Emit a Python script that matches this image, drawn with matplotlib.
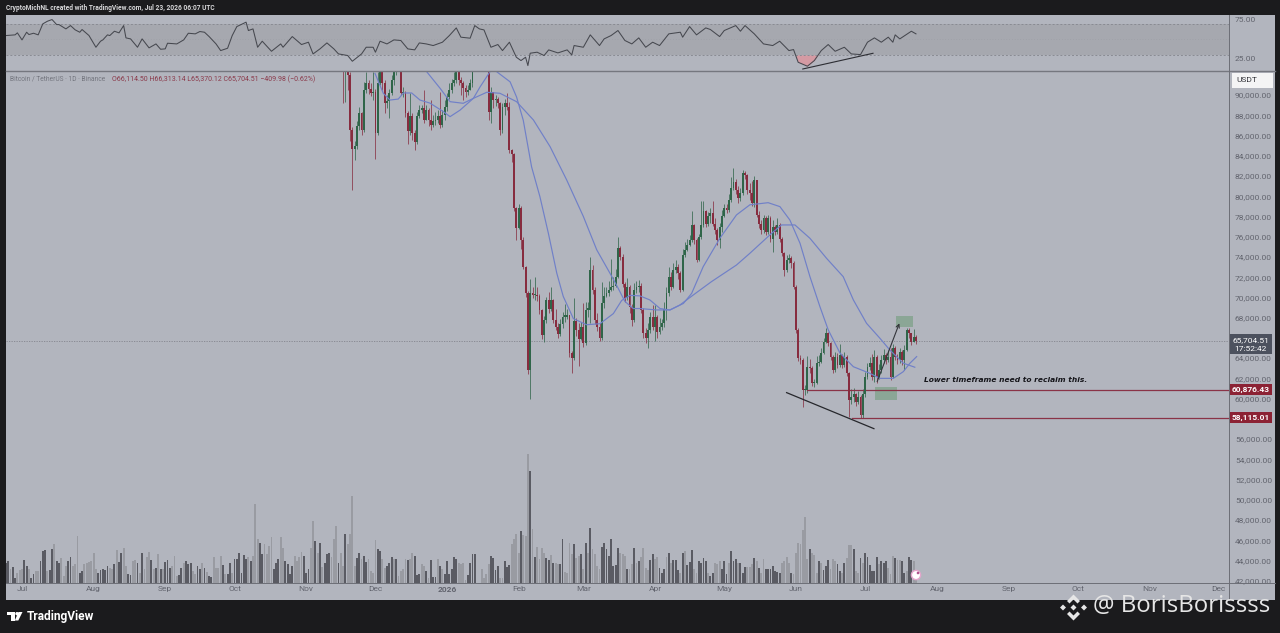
import matplotlib
matplotlib.use("Agg")
import matplotlib.pyplot as plt
from matplotlib.patches import Rectangle, Polygon, Circle
import numpy as np
import pandas as pd

# ---------- data (prices in thousands of USDT) ----------
close_k = [93,93.5,92,86.5,84.7,85,86.9,88.2,86.5,90.5,
91.2,90.6,90.2,90.3,86.2,91.2,93,91.2,89.2,89.4,
90.2,91.5,92.8,93.2,93.5,90.2,90.2,88.2,86.4,87.9,
86.2,85.4,87.9,88.5,88.7,87.5,88.5,87.5,87,87.4,
87.5,87.9,87,88,88.85,89.8,90.5,91.15,91.5,93,
91.5,91.15,90.7,90.3,90.5,91.15,93,94.5,95,95.5,
96,96.5,95.5,88.3,90.3,89.5,89.6,89.2,86.5,88.85,
89.2,88.8,84.6,84.2,78.8,76.9,78.8,75.7,73,70.4,
62.8,70.4,70.2,70.2,70.1,68.75,66.3,67.8,69.7,68.9,
69.7,67.8,67.1,66.4,67.4,68.1,68.1,68.3,64.5,64,
67.7,66.8,65.9,67.1,65.5,68.8,68.8,72.7,70.7,67.8,
67.1,65.95,69.4,70.1,70.4,70.7,71.05,71.1,72.05,74.85,
74,71.3,69.9,71,69.1,67.8,70.7,71,71.1,
68.8,66.45,65.95,66.8,68.1,67.1,68.1,66.6,67.1,67.45,
68.9,70.4,72.05,71.05,72.7,73.05,72.4,70.75,74.2,74.7,
75.2,75.7,77.15,75.7,73.7,76,77.15,78.5,77.3,78,
78.3,77.3,76.65,75.7,77,78,78.8,78.6,79.6,80.8,
81.4,80.6,79.8,80.3,82.25,82.1,80.6,80.3,79.3,81.6,
78.15,77.3,76.65,77.8,76.5,77.8,75.8,77,76.5,77.15,
75.8,74.35,72.7,73.7,73.9,73.4,71.05,66.8,64,63.8,
60.85,60.85,63.15,63,61.5,61.5,63.5,63.65,64.5,65.6,
66.45,65.45,64.15,62.8,64.15,63.3,64.3,63.3,64.15,62.5,
59.85,60.2,60.5,59.7,60.2,58.4,60.5,62.15,63.15,63.5,
62.15,64.15,62.15,62.8,63.8,64.3,63.8,64.15,62.15,65,
64.15,63.8,64.65,63.8,64.8,66.8,66.45,65.6,66.11,65.70]
high_k = [96,96,94,92.3,86.8,85.5,87.4,88.8,88.3,91.3,
92.3,91.5,91.2,92.3,90.6,92.3,94,93.5,91.5,90,
90.6,92,94,94.5,94.5,93.8,90.8,90.4,88.4,90.2,
88.2,86.5,88.3,89,89,90.5,89,88.7,89.5,88,
88.3,88.5,90.3,88.5,89.5,90.2,91.2,91.6,92.3,94.5,
93.5,91.8,91.4,91,91,91.6,94.5,95.5,96,96.5,
97,97.5,97,95,90.8,90.3,90,89.8,89.3,89.2,
89.6,90.2,89.3,84.7,84.3,78.9,79.2,79,76,73.1,
70.6,71.8,71,72.05,71,70.3,68.9,68.2,70,70.5,
71,69.8,68.9,67.5,67.9,68.6,69.3,68.9,68,64.7,
69.9,68,67.5,67.6,69.4,69.5,69.5,74,73.2,71,
68.5,67.5,71.5,71,71,71.6,73.8,72,72.8,76,
75.1,74.3,71.5,71.9,71.2,69.3,71.4,71.6,71.7,
71.4,69,67,67.5,68.6,69.2,69.2,68.3,68,67.9,
69.5,71,73,72.5,73.4,73.7,73.3,72.6,74.8,75.5,
75.8,76.2,78.5,77.3,75.9,76.3,79.5,79.5,78.6,78.4,
78.8,79.5,77.8,76.9,77.4,78.6,79.2,79.2,80.2,81.9,
82.75,81.7,81,80.8,82.6,82.5,82.2,81.3,81.5,82,
81,78.5,77.6,78.1,78,78.1,78,77.6,77.2,77.8,
77.4,76,74.5,74.2,74.3,74.1,73.6,71.2,67,64.3,
64,61.3,64.2,63.9,63.2,61.9,64.2,64.3,65,66,
67,66.6,65.6,64.3,64.6,64.5,65.4,64.4,64.6,64.3,
62.6,60.9,61,60.6,60.8,60.4,60.9,62.6,63.5,64.1,
64.4,64.8,64.3,63.4,64.3,64.9,64.5,64.8,65,65.4,
65.2,64.4,65,64.8,65.3,67,67,66.5,66.9,66.31]
low_k = [89.2,89.3,90.5,85.5,80.6,83.6,84.7,86.5,86,86.3,
90.2,90.1,89.9,89.5,83.7,86,91,90.5,88.2,88.7,
87.7,90,91,92,92.5,90,89.8,87.8,85.2,86,
85.6,84.6,85.2,87.7,88.2,87.2,87.5,86.9,86.5,86.8,
87,87.2,86.7,86.8,87.5,88.4,89.6,90.2,90.9,91.2,
91,90,89.5,89.8,90,90.5,90.8,92.5,94,94.5,
95,95.5,95,87.5,87.2,88.7,88.9,88.7,86,86.2,
88,88.5,84.3,83.4,78.5,75.7,76.8,74.8,72.8,70,
62.4,60,69.9,69.7,69.6,68.4,65.9,65.6,67.5,68.5,
68.7,67.5,66.8,66,66.2,67,67.6,67.9,64.1,62.5,
63.8,66.2,63.2,65.8,65.1,65.3,68.1,67.5,70.3,67.4,
66.7,65.7,65.8,69,70,70.1,70.6,70.7,71,71.9,
73.7,71,69.5,69.7,68.5,67.2,67.6,70.4,70.5,
68.5,66,65.5,65,66.5,66.8,65.7,66,66.4,66.8,
67.1,67.8,70.1,70.7,70.9,72.4,71.8,70.5,70.6,74,
74.6,75.1,75.5,75.3,73.5,73.6,75.8,77,77,77.1,
77.4,77.1,76.3,75.2,74.9,76.5,77.9,78.3,78.4,79.4,
80.6,80.2,79.3,79.5,80.1,81.7,80.2,79.6,79,78.9,
77.9,76.9,76.3,76.4,76.2,76.3,75.5,74.5,76.2,76.3,
75.5,74.1,72.1,72.5,73.4,72.9,70.8,66.5,63.7,63.4,
59.2,60.4,60.6,62.5,61.2,61.1,61.4,63.2,63.5,64.4,
65.5,65.2,63.8,62.5,62.6,63,63.1,63,63.1,62.2,
58.2,59.5,59.7,59.3,59.5,58.1,58.1,60.2,61.9,62.8,
61.8,61.6,61.5,61.9,62.5,63.5,63.4,63.6,61.8,62,
63.8,63.4,63.5,63.3,62.8,64.7,66,65.3,65.6,65.37]
first_open_k = 94.0

# signed volume: positive = up day (light), negative = down day (dark); unit is arbitrary
volume_first = [-60,-65,40,-48,-15,30,38,42,-68,-50,40,-15,-25,35,35,-65,-95,-98,35,-38,
-102,115,-65,-60,75,20,50,-65,-78,50,55,140,-28,-35,55,60,62,65,90,40,
-30,-38,-40,-38,-50,45,40,-55,98,-62,-88,105,50,-25,-22,65,68,-60,30,-88,
42,78,92,-68,42,-45,85,-40,40,-62,-68,-45,50,80,20,-22,-45,60,-65,-55,
-58,35,25,-50,-42,60,-45,32,-20,-18,78,45,45,80,-52,25,-25,-58,30,-72,
-72,-88,-30,-82,-70,78,-65,80,235,130,-118,-85,115,85,110,138,-42,-58,-72,138,
105,-65,-55,-25,-50,80,65,78,92,-80,-30,-42,105,185,-125,90,-118,48,-58,-85,
-88,78,130,170,-58,90,50,-145,115,145,260,50,-75,-90,70,-80,-62,70,35,30,
128,-100,-95,72,45,-50,-58,-78,72,-72,20,35,40,70,-68,72,90,-80,-22,-25,
55,50,-35,15,-68,-18,-18,72,-50,42,-25,-65,-25,-40,-78,-70,60,55,60,8,
-22,-60,-85,-85]
volume_last = [42,15,25,55,-80,-75,-38,-50,15,15,-65,-48,-52,115,130,145,90,-155,142,140,
385,-335,162,-78,108,70,105,90,-75,-68,82,-60,60,55,-55,-130,32,30,120,85,
-115,75,80,-85,40,-118,90,-165,100,85,50,40,-108,-120,-100,-80,-132,-50,-52,-105,
90,85,80,-40,40,55,-105,60,-65,78,105,45,38,-68,-85,70,78,-45,-30,-42,
78,-88,60,-68,-68,-38,30,-90,95,-52,-62,-98,40,28,-65,-60,-75,-65,30,-20,
-30,60,55,65,-40,-65,-25,60,-95,-65,-70,60,-60,-28,-48,48,48,55,-75,65,
-45,30,72,-42,-42,-42,-50,-35,-32,-30,60,65,78,60,-30,25,90,120,115,158,
198,70,-100,90,82,30,-65,60,-38,-50,-68,40,72,65,-55,-35,30,-58,75,112,
112,-100,35,30,-75,60,-90,-78,-52,-35,-35,-78,55,-65,-60,-65,45,25,80,-75,
68,68,-65,-30,35,-78,-68,65,12]

# RSI readings: days after 2025-07-01 and value
rsi_days = [-7,-3,-2,0,2,3,5,7,9,11,13,15,16,19,21,23,25,26,29,32,34,35,37,38,40,42,44,45,47,50,
52,55,58,60,62,63,67,70,72,75,77,79,81,84,86,89,91,93,97,98,100,102,104,108,112,113,117,121,124,126,
129,132,135,137,141,143,147,149,152,153,155,158,161,164,167,170,172,175,178,182,185,188,190,194,196,198,200,203,206,208,
211,214,216,218,219,220,223,226,228,232,236,238,239,243,246,250,252,255,258,261,264,267,270,273,276,280,285,286,289,292,
296,298,302,304,309,311,313,317,321,325,328,332,334,336,340,343,346,349,352,356,359,363,366,369,372,375,377,378,380,385,387]
rsi_vals = [54.9,55.8,58.4,49.3,59.2,56.2,57.9,55.8,70,73.4,75.6,69.1,69.1,63.5,67.8,62.3,59.2,62.7,54.9,39.8,47.6,49.3,55.8,54.9,60.5,58.4,67.8,51.9,50.6,39.8,
50.6,39,44.1,37.2,37.7,45,44.1,49.3,57.9,57.1,60.1,59.2,53.6,44.1,35.5,38.5,54.9,66.5,72.2,61.4,63.5,39.8,47.6,34.6,44.1,39.8,53.6,43.3,46.3,31.2,
37.7,45.4,37.7,31.2,29.1,21.7,31.2,39.8,39.8,33.4,47.6,44.1,49.3,48.5,37.7,36.4,45.4,44.1,42,46.3,54.9,64.8,52.8,51.5,67.8,63.5,62.2,39.8,43.3,35.5,
46.3,26.9,22.6,26.9,16.1,32.1,33.4,29.1,36.4,32.5,36.4,29.9,42,39.8,55.8,42,50.6,54.9,61.4,48.5,44.1,51.9,39.8,46.3,42,57.1,59.2,52.8,66.5,55.8,
64.8,62.7,53.6,61.4,67.8,60.5,67.8,57.1,44.1,42,47.6,35.5,36.8,20.4,15.3,22.6,35.5,43.3,34.6,39.8,31.2,30.3,46.3,51.9,46.3,52.8,46.3,55.8,50.6,60.5,57.1]

# moving averages: days after 2025-07-01 and price in thousands
ma_fast_days = [152.8,156.4,159.3,162.9,165.1,168.7,172.3,176.6,182.4,185.3,189.6,195.4,198.3,202.6,204,205.5,211.3,214.1,217,220.6,224.2,227.9,231.5,234.3,238.7,244.4,250.2,256,259.6,263.2,267.5,271.8,276.2,280.5,286.3,289.9,294.9,302.1,309.3,315.1,323,328.1,332.4,336.8,341.1,345.4,349,354.1,359.9,367,371.4,377.2,381.5,384.4,387.3]
ma_fast_k = [92.14,90.17,89.5,89.6,90.2,90.2,89.5,89.2,88.36,87.86,88.5,89.67,90.8,92.3,93,92.3,91.3,89.8,87.5,82.9,79.96,76.3,72.4,70.1,67.9,67.3,67.4,68.4,69.7,70.2,70.15,69.75,68.9,68.76,69.4,70.4,73.04,75.84,78.15,79.15,79.36,78.97,77.65,75.35,72.05,69.1,66.8,64.5,63.15,62.5,62,62,62.66,63.5,64.15]
ma_slow_days = [175.2,181,185.3,191,195.4,201.2,206.9,214.1,221.4,228.6,235.8,243,248.8,254.5,257.4,261,264.6,267.5,274.7,280.5,284.8,290.6,298.5,309.3,315.1,324.5,328.8,334.6,341.1,348.3,355.5,359.9,365.6,371.4,375.7,381.5,386.5]
ma_slow_k = [92.3,90.66,89.34,89.18,89.67,90.27,90.17,89.34,87.53,84.9,81.6,78,74.7,72.4,71.2,69.6,68.9,68.9,68.76,68.76,69.25,70.24,71.56,73.2,74.36,76.33,77.16,77.16,75.84,73.86,72.05,69.75,67.44,65.96,64.8,63.5,63.1]

# 58,000 and 66,000 sit hidden behind the price tags in the reference
price_ticks = [42000,44000,46000,48000,50000,52000,54000,56000,60000,62000,64000,68000,70000,72000,74000,76000,78000,80000,82000,84000,86000,88000,90000]
month_starts = ['2025-07-01','2025-08-01','2025-09-01','2025-10-01','2025-11-01','2025-12-01','2026-01-01',
                '2026-02-01','2026-03-01','2026-04-01','2026-05-01','2026-06-01','2026-07-01','2026-08-01',
                '2026-09-01','2026-10-01','2026-11-01','2026-12-01']
month_labels = ['Jul','Aug','Sep','Oct','Nov','Dec','2026','Feb','Mar','Apr','May','Jun','Jul','Aug','Sep','Oct','Nov','Dec']
last_price = 65704.51
level_a = 60876.43
level_b = 58115.01

# ---------- style ----------
W, H = 1280, 633
DARK = '#1b1b1d'; PANEL = '#b2b5be'; BAND = '#a6a8af'
UP = '#2f6549'; DOWN = '#872c3f'; VOL_UP = '#999ba2'; VOL_DOWN = '#5a5b63'
BLUE = '#7080c8'; AXIS = '#6c6e76'; TICK = '#62646e'
FONT = 'Roboto'
plt.rcParams['font.family'] = [FONT, 'DejaVu Sans']

fig = plt.figure(figsize=(W/100, H/100), dpi=100, facecolor=DARK)

def rect_px(x0, y0, x1, y1):
    return [x0/W, 1-y1/H, (x1-x0)/W, (y1-y0)/H]

# scales: 1 day = 2.31 px with Jul 1 2025 at x=22; 1000 USDT = 10.12 px with 90000 at y=95
x_left, x_right = 5.5, 1229.0
y_top, y_bot = 71.0, 582.5
xlim = ((x_left-22)/2.31, (x_right-22)/2.31)
ylim = (90000-(y_bot-95)/10.12*1000, 90000-(y_top-95)/10.12*1000)

# background
bg = fig.add_axes([0, 0, 1, 1], zorder=0)
bg.set_xlim(0, W); bg.set_ylim(H, 0); bg.axis('off')
bg.add_patch(Rectangle((5.5, 15), 1269, 585, color=PANEL, lw=0))

# ---------- RSI pane ----------
rsi = fig.add_axes(rect_px(x_left, 15, x_right, y_top), zorder=2)
rsi.patch.set_alpha(0)
rsi.set_xlim(*xlim)
rsi.set_ylim(25-(y_top-58.7)/0.774, 75+(20-15)/0.774)
rsi.axhspan(30, 70, color=BAND, lw=0)
rsi.axhline(70, color='#898b93', lw=0.7, ls=(0, (2, 2)))
rsi.axhline(30, color='#898b93', lw=0.7, ls=(0, (2, 2)))
rsi.axhline(50, color='#9a9ca3', lw=0.5, ls=(0, (1, 3)))
rd = np.array(rsi_days, float); rv = np.array(rsi_vals, float)
rsi.fill_between(rd, rv, 30, where=(rv < 30) & (rd > 333) & (rd < 346), interpolate=True, color='#d49aa3', lw=0)
rsi.plot(rd, rv, color='#46484f', lw=0.75, solid_joinstyle='round')
rsi.plot([338, 368.4], [11.7, 32], color='#2c2d33', lw=0.8)
rsi.yaxis.tick_right()
rsi.set_yticks([25, 75], ['25.00', '75.00'])
rsi.tick_params(axis='y', length=0, pad=4.3, labelsize=6, labelcolor=TICK)
rsi.set_xticks([])
for s in rsi.spines.values():
    s.set_visible(False)

# ---------- price pane ----------
ax = fig.add_axes(rect_px(x_left, y_top, x_right, y_bot), zorder=3)
ax.patch.set_alpha(0)
ax.set_xlim(*xlim); ax.set_ylim(*ylim)

origin = pd.Timestamp('2025-07-01')
dates = pd.date_range(end='2026-07-23', periods=len(close_k))
days = np.array((dates-origin).days, float)
c = np.array(close_k)*1000; h = np.array(high_k)*1000; l = np.array(low_k)*1000
o = np.r_[first_open_k*1000, c[:-1]]
up = c >= o
colors = np.where(up, UP, DOWN)

ax.vlines(days, l, h, colors=colors, lw=0.65, zorder=3, alpha=0.8)
ax.bar(days, np.maximum(np.abs(c-o), 120), bottom=np.minimum(o, c), width=0.8, color=colors, lw=0, zorder=4)

ax.plot(ma_fast_days, np.array(ma_fast_k)*1000, color=BLUE, lw=0.85, zorder=5)
ax.plot(ma_slow_days, np.array(ma_slow_k)*1000, color=BLUE, lw=0.85, zorder=5)
ax.axhline(last_price, color='#83858e', lw=0.6, ls=(0, (1.5, 1.5)), zorder=2)

# drawings
ax.add_patch(Rectangle((369.3, 59860), 9.5, 1320, color='#8ba696', lw=0, zorder=2))
ax.add_patch(Rectangle((378.2, 67100), 7.7, 1070, color='#8ba696', lw=0, zorder=2))
ax.plot([339.8, xlim[1]], [level_a, level_a], color='#8a3347', lw=0.9, zorder=3)
ax.plot([359.3, xlim[1]], [level_b, level_b], color='#8a3347', lw=0.9, zorder=3)
ax.plot([331, 368.8], [60590, 57030], color='#26272c', lw=0.9, zorder=6)
ax.annotate('', xy=(379.8, 67440), xytext=(370.2, 61680),
            arrowprops=dict(arrowstyle='->', color='#33343a', lw=0.8, mutation_scale=6, shrinkA=0, shrinkB=0), zorder=6)
ax.text(390.5, 61840, 'Lower timeframe need to reclaim this.', fontsize=5.4, fontweight='bold', fontstyle='italic',
        family='DejaVu Sans', color='#15151a', va='center', ha='left', zorder=6)

ax.set_xticks([(pd.Timestamp(m)-origin).days for m in month_starts], month_labels)
ax.tick_params(axis='x', length=0, pad=2.6, labelsize=6, labelcolor=TICK)
for lab, name in zip(ax.get_xticklabels(), month_labels):
    if name == '2026':
        lab.set_fontweight('bold')
for s in ax.spines.values():
    s.set_visible(False)

# ---------- volume (same pane, own scale) ----------
vol = ax.twinx()
vol.set_zorder(ax.get_zorder()-1)
vol.patch.set_alpha(0)
vol.set_xlim(*xlim)
vol.set_ylim(0, (y_bot-y_top)*3)
vf = np.array(volume_first, float); vl = np.array(volume_last, float)
day_f = -7+np.arange(len(vf)); day_l = 387-len(vl)+1+np.arange(len(vl))
for dd, vv in ((day_f, vf), (day_l, vl)):
    vol.bar(dd, np.abs(vv), width=0.8, color=np.where(vv > 0, VOL_UP, VOL_DOWN), lw=0)
vol.set_yticks([])
for s in vol.spines.values():
    s.set_visible(False)

# price scale labels (set after twinx, which moves the ticks back to the left)
ax.yaxis.tick_right()
ax.set_yticks(price_ticks, [f'{t:,.2f}' for t in price_ticks])
ax.tick_params(axis='y', length=0, pad=4.3, labelsize=6, labelcolor=TICK)
ax.set_ylim(*ylim)

# ---------- price tags on the axis ----------
tag_w = 43/(x_right-x_left)
ybt = ax.get_yaxis_transform()
for level, color, txt in ((level_a, '#8c2234', f'{level_a:,.2f}'), (level_b, '#8c2234', f'{level_b:,.2f}')):
    ax.add_patch(Rectangle((1.0, level-560), tag_w, 1120, transform=ybt, color=color, lw=0, clip_on=False, zorder=20))
    ax.text(1.0+tag_w/2, level, txt, transform=ybt, color='white', fontsize=6, fontweight='bold', ha='center', va='center', zorder=21, clip_on=False)
ax.add_patch(Rectangle((1.0, last_price-1330), tag_w, 1980, transform=ybt, color='#4c515e', lw=0, clip_on=False, zorder=20))
ax.text(1.0+tag_w/2, last_price+60, f'{last_price:,.2f}', transform=ybt, color='white', fontsize=6, ha='center', va='center', zorder=21, clip_on=False)
ax.text(1.0+tag_w/2, last_price-850, '17:52:42', transform=ybt, color='white', fontsize=6, ha='center', va='center', zorder=21, clip_on=False)

# ---------- chrome ----------
fg = fig.add_axes([0, 0, 1, 1], zorder=10)
fg.set_xlim(0, W); fg.set_ylim(H, 0); fg.axis('off'); fg.patch.set_alpha(0)
fg.plot([5.5, 1274.5], [71, 71], color='#75777f', lw=1)
fg.plot([5.5, 1274.5], [582.5, 582.5], color=AXIS, lw=0.7)
fg.plot([1229, 1229], [15, 600], color=AXIS, lw=0.7)

fg.text(5.5, 8.5, 'CryptoMichNL created with TradingView.com, Jul 23, 2026 06:07 UTC', color='#d8d8da', fontsize=4.75,
        fontweight='bold', va='center')
fg.text(10, 79, 'Bitcoin / TetherUS · 1D · Binance', color='#74767f', fontsize=4.75, va='center')
fg.text(112, 79, 'O66,114.50 H66,313.14 L65,370.12 C65,704.51 −409.98 (−0.62%)', color='#8b3a4b', fontsize=5.0, va='center')

fg.add_patch(Rectangle((1232, 73), 41, 15, color='#f4f4f5', lw=0))
fg.text(1236, 80.5, 'USDT', color='#33343a', fontsize=6, va='center')

# pink marker at the end of the volume
fg.add_patch(Circle((916, 575), 4.6, facecolor='white', edgecolor='#e3a6cc', lw=1))
fg.add_patch(Circle((918, 573), 1.3, facecolor='#b0528c', lw=0))

# TradingView logo
fg.add_patch(Rectangle((7, 612), 7.5, 3, color='white', lw=0))
fg.add_patch(Rectangle((10.5, 612), 4, 8.5, color='white', lw=0))
fg.add_patch(Circle((17, 613.7), 1.7, color='white', lw=0))
fg.add_patch(Polygon([(18.5, 612), (22.5, 612), (18.3, 620.5), (14.8, 620.5)], color='white', lw=0))
fg.text(27, 616.8, 'TradingView', color='white', fontsize=8.6, fontweight='bold', va='center')

# watermark
wm = '#e6e6e6'
cx, cy = 1073.5, 607.5
for pts in ([(0, -13), (6.5, -6.5), (4, -4), (0, -8), (-4, -4), (-6.5, -6.5)],
            [(0, 13), (6.5, 6.5), (4, 4), (0, 8), (-4, 4), (-6.5, 6.5)],
            [(0, -3), (3, 0), (0, 3), (-3, 0)],
            [(-13.5, 0), (-10.5, -3), (-7.5, 0), (-10.5, 3)],
            [(13.5, 0), (10.5, -3), (7.5, 0), (10.5, 3)]):
    fg.add_patch(Polygon([(cx+a, cy+b) for a, b in pts], color=wm, lw=0))
fg.text(1093, 606.5, '@ BorisBorissss', color=wm, fontsize=17.3, family='Open Sans', va='center')

fig.savefig('out.png', dpi=100, facecolor=DARK)
